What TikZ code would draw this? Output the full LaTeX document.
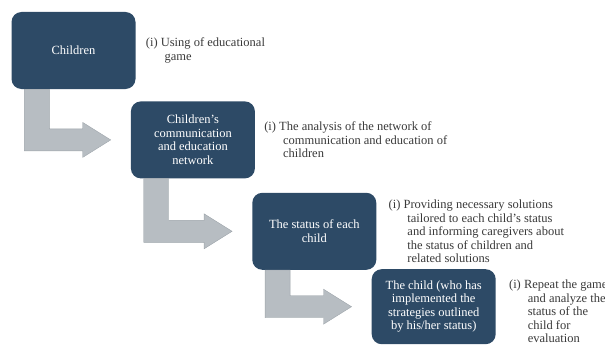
\documentclass[tikz,border=0pt]{standalone}
\usepackage{fontspec}
\setmainfont{Liberation Serif}
\usepackage{tikz}
\usetikzlibrary{positioning}
\usetikzlibrary{calc}

\definecolor{boxblue}{HTML}{2D4A66}
\definecolor{flowgray}{HTML}{B7BDC2}
\definecolor{flowedge}{HTML}{9EA5AB}
\definecolor{notegray}{HTML}{3A3A3A}

\tikzset{
	stage/.style={rounded corners=10pt, fill=boxblue, text=white, align=center,
		minimum width=124pt, minimum height=77pt, inner sep=2pt,
		font=\fontsize{12.5}{13.5}\selectfont},
	note/.style={align=left, text=notegray, inner sep=0pt,
		font=\fontsize{12.5}{13.5}\selectfont},
	flow/.style={fill=flowgray, draw=flowedge, line width=0.4pt},
}

% bent block arrow from the bottom of one stage to the left of the next
\newcommand{\bentflow}[2]{%
	\filldraw[flow] let \p1 = ($(#1.south west)+(25.5pt,0pt)$),
		\p2 = ($(#2.west)+(-20pt,0pt)$) in
		(\x1-12.5pt,\y1) -- (\x1-12.5pt,\y2-11pt) -- (\x2-28pt,\y2-11pt)
		-- (\x2-28pt,\y2-17.5pt) -- (\x2,\y2) -- (\x2-28pt,\y2+17.5pt)
		-- (\x2-28pt,\y2+11pt) -- (\x1+12.5pt,\y2+11pt) -- (\x1+12.5pt,\y1) -- cycle;%
}

\newcommand{\hang}{\hspace*{1.5em}}

\begin{document}
\begin{tikzpicture}[x=1pt, y=-1pt]
		
		% ---------------------
		% Proper size --- Bounding box
		\useasboundingbox (0,0) rectangle (605,345);
		
		% ---------------------
		% Stages
		
		\node[stage] (children) at (73.5,50.5) {Children};
		\node[stage, below right=12pt and -5pt of children] (network)
			{Children’s\\communication\\and education\\network};
		\node[stage, below right=14pt and -3pt of network] (status)
			{The status of each\\child};
		\node[stage, minimum height=75pt, below right=-1pt and -5pt of status] (child)
			{The child (who has\\implemented the\\strategies outlined\\by his/her status)};
		
		% ---------------------
		% Notes
		
		\node[note, right=10pt of children] (using)
			{(i) Using of educational\\\hang game};
		\node[note, right=9pt of network] (analysis)
			{(i) The analysis of the network of\\\hang communication and education of\\\hang children};
		\node[note, right=12pt of status] (solutions)
			{(i) Providing necessary solutions\\\hang tailored to each child’s status\\\hang and informing caregivers about\\\hang the status of children and\\\hang related solutions};
		\node[note, right=13pt of child, yshift=-5pt] (repeat)
			{(i) Repeat the game\\\hang and analyze the\\\hang status of the\\\hang child for\\\hang evaluation};
		
		% ---------------------
		% Flow
		
		\bentflow{children}{network}
		\bentflow{network}{status}
		\bentflow{status}{child}
		
\end{tikzpicture}
\end{document}
